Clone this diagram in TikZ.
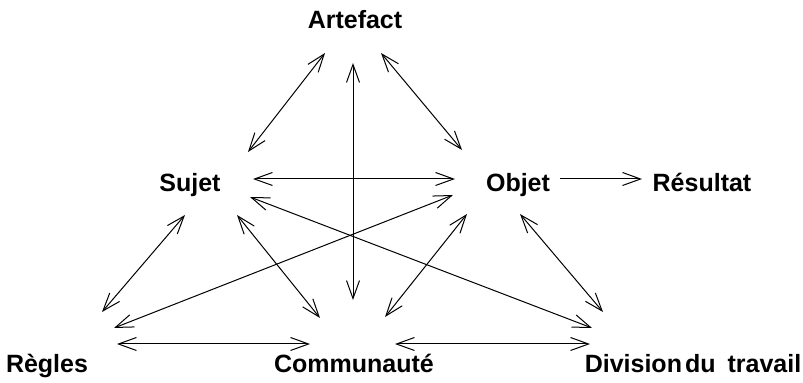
\documentclass[tikz,border=0pt]{standalone}
\usepackage{fontspec}
\setmainfont{Liberation Sans}
\usetikzlibrary{arrows.meta}

\tikzset{
  mot/.style={font=\fontsize{12.5}{14}\selectfont\bfseries, inner sep=0pt,
    text height=9pt, text depth=2.6pt},
  lien/.style={line width=0.5pt, {Straight Barb[length=9pt,width=6.5pt]}-{Straight Barb[length=9pt,width=6.5pt]}},
  sens/.style={line width=0.5pt, -{Straight Barb[length=9pt,width=6.5pt]}},
}

% flèche entre deux noeuds, avec décalage (en px) depuis leur centre
\newcommand{\Lien}[5][lien]{%
  \draw[#1] ([shift={#3}]#2.center) -- ([shift={#5}]#4.center);
}

\begin{document}
\begin{tikzpicture}[x=0.5pt, y=-0.5pt]
  \useasboundingbox (0,0) rectangle (803,383);
  \node[mot] (art) at (355, 22) {Artefact};
  \node[mot] (suj) at (190,185) {Sujet};
  \node[mot] (obj) at (518,185) {Objet};
  \node[mot] (res) at (702,185) {Résultat};
  \node[mot] (reg) at ( 47,366) {Règles};
  \node[mot] (com) at (354,366) {Communauté};
  \node[mot] (div) at (693,366) {Division\kern1.5pt du\hspace{6pt}travail};

  \Lien{art}{(-30,31)}{suj}{(58,-33)}    % Artefact -- Sujet
  \Lien{art}{(-2,41)}{com}{(-1,-66)}     % Artefact -- Communauté
  \Lien{art}{(26,31)}{obj}{(-56,-35)}    % Artefact -- Objet
  \Lien{suj}{(63,-6)}{obj}{(-63,-6)}     % Sujet -- Objet
  \Lien{suj}{(60,12)}{div}{(-101,-38)}   % Sujet -- Division
  \Lien{obj}{(-65,10)}{reg}{(67,-38)}    % Objet -- Règles
  \Lien{suj}{(-5,30)}{reg}{(55,-54)}     % Sujet -- Règles
  \Lien{suj}{(47,30)}{com}{(-34,-48)}    % Sujet -- Communauté
  \Lien{obj}{(-51,29)}{com}{(31,-49)}    % Objet -- Communauté
  \Lien{obj}{(2,29)}{div}{(-90,-54)}     % Objet -- Division
  \Lien{reg}{(70,-22)}{com}{(-44,-22)}   % Règles -- Communauté
  \Lien{com}{(41,-22)}{div}{(-103,-22)}  % Communauté -- Division
  \Lien[sens]{obj}{(42,-6)}{res}{(-60,-6)} % Objet -> Résultat
\end{tikzpicture}
\end{document}
